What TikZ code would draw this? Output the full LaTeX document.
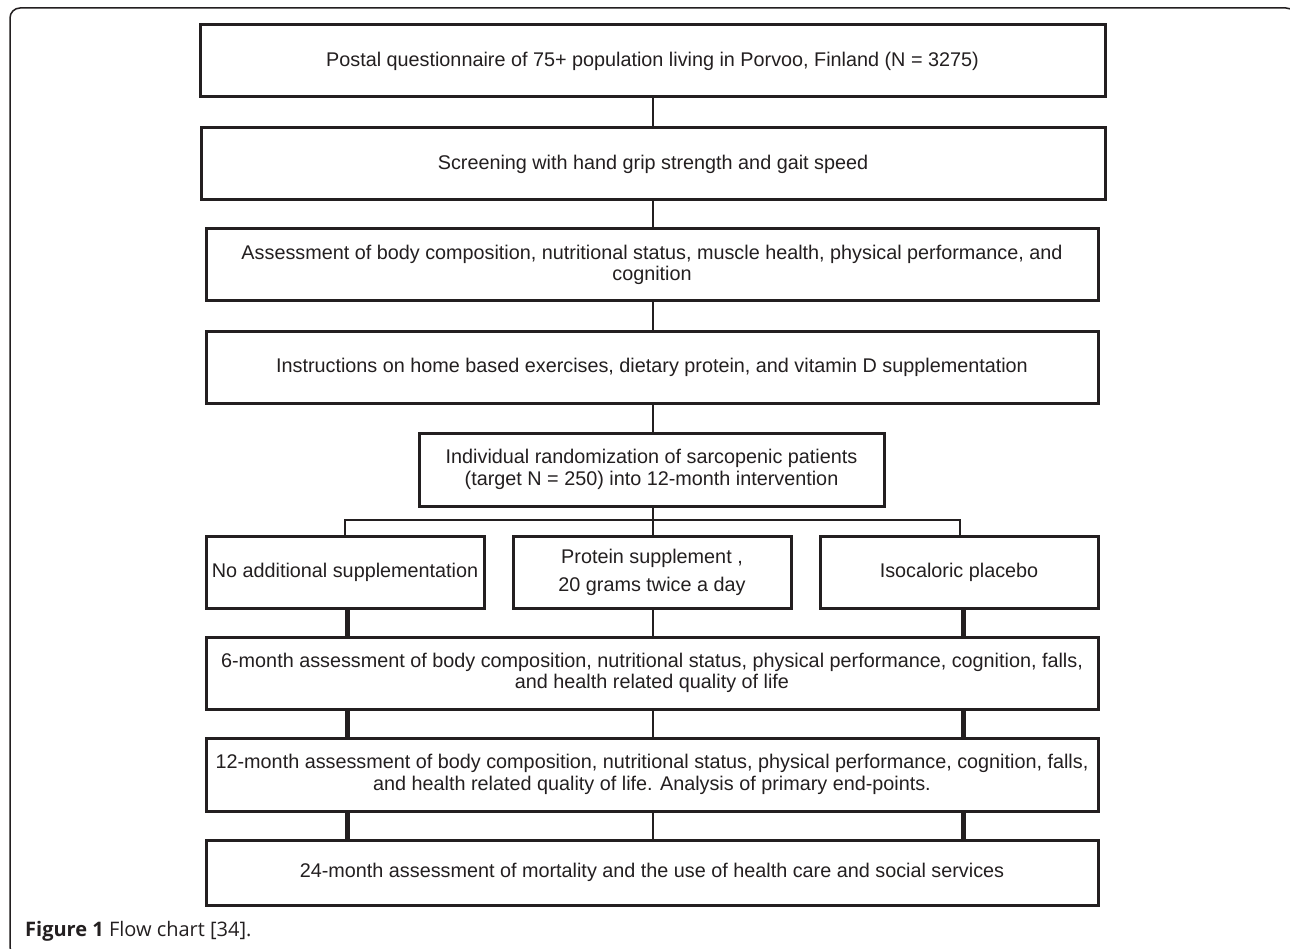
\documentclass[tikz,border=0pt]{standalone}
\usepackage{fontspec}
\setmainfont{Liberation Sans}
\newfontfamily\capfont{Open Sans}
\definecolor{ink}{RGB}{35,31,32}
\begin{document}
\begin{tikzpicture}[x=1pt,y=-1pt,
  box/.style={draw=ink,line width=3pt,inner sep=0pt,align=center,text=ink,
    font=\fontsize{19.8}{21.5}\selectfont},
  thin/.style={draw=ink,line width=2.5pt},
  thick/.style={draw=ink,line width=5pt}]
\clip (0,0) rectangle (1290,949);
\fill[white] (0,0) rectangle (1290,949);
\draw[ink,line width=1.5pt,rounded corners=10pt] (10,8) rectangle (1296,957);

\node[box,minimum width=905pt,minimum height=72pt] (b1) at (652.5,61)
  {Postal questionnaire of 75+ population living in Porvoo, Finland (N = 3275)};
\node[box,minimum width=904pt,minimum height=72pt] (b2) at (653,164)
  {Screening with hand grip strength and gait speed};
\node[box,minimum width=892pt,minimum height=72pt] (b3) at (652,265)
  {Assessment of body composition, nutritional status, muscle health, physical performance, and\\cognition};
\node[box,minimum width=892pt,minimum height=71pt] (b4) at (652,367.5)
  {Instructions on home based exercises, dietary protein, and vitamin D supplementation};
\node[box,minimum width=465pt,minimum height=73pt] (r) at (651.5,469.5)
  {Individual randomization of sarcopenic patients\\(target N = 250) into 12-month intervention};
\node[box,minimum width=278pt,minimum height=72pt] (g1) at (345,572)
  {No additional supplementation};
\node[box,minimum width=278pt,minimum height=72pt,font=\fontsize{19.8}{28}\selectfont] (g2) at (652,572)
  {Protein supplement ,\\20 grams twice a day};
\node[box,minimum width=278pt,minimum height=72pt] (g3) at (959,572)
  {Isocaloric placebo};
\node[box,minimum width=892pt,minimum height=72pt] (m6) at (652,673)
  {6-month assessment of body composition, nutritional status, physical performance, cognition, falls,\\and health related quality of life};
\node[box,minimum width=892pt,minimum height=73pt] (m12) at (652,774.5)
  {12-month assessment of body composition, nutritional status, physical performance, cognition, falls,\\and health related quality of life. Analysis of primary end-points.};
\node[box,minimum width=892pt,minimum height=65pt] (m24) at (652,872.5)
  {24-month assessment of mortality and the use of health care and social services};

\coordinate (bl) at (345,520);
\coordinate (br) at (960,520);

\draw[thin] (b1.south -| 653,0) -- (b2.north -| 653,0);
\draw[thin] (b2.south -| 653,0) -- (b3.north -| 653,0);
\draw[thin] (b3.south -| 653,0) -- (b4.north -| 653,0);
\draw[thin] (b4.south -| 653,0) -- (r.north -| 653,0);
\draw[thin] (r.south -| 653,0) -- (g2.north -| 653,0);
\draw[thin] (g1.north -| bl) -- (bl) -- (br) -- (g3.north -| br);

\draw[thick] (g1.south -| 347,0) -- (m6.north -| 347,0);
\draw[thin] (g2.south -| 653,0) -- (m6.north -| 653,0);
\draw[thick] (g3.south -| 963,0) -- (m6.north -| 963,0);
\foreach \a/\b in {m6/m12,m12/m24}{
  \draw[thick] (\a.south -| 347,0) -- (\b.north -| 347,0);
  \draw[thin] (\a.south -| 653,0) -- (\b.north -| 653,0);
  \draw[thick] (\a.south -| 963,0) -- (\b.north -| 963,0);
}

\node[anchor=west,inner sep=0pt,text=ink,font=\capfont\fontsize{20}{24}\selectfont] (cap) at (25,931)
  {\textbf{Figure 1} Flow chart [34].};
\end{tikzpicture}
\end{document}
